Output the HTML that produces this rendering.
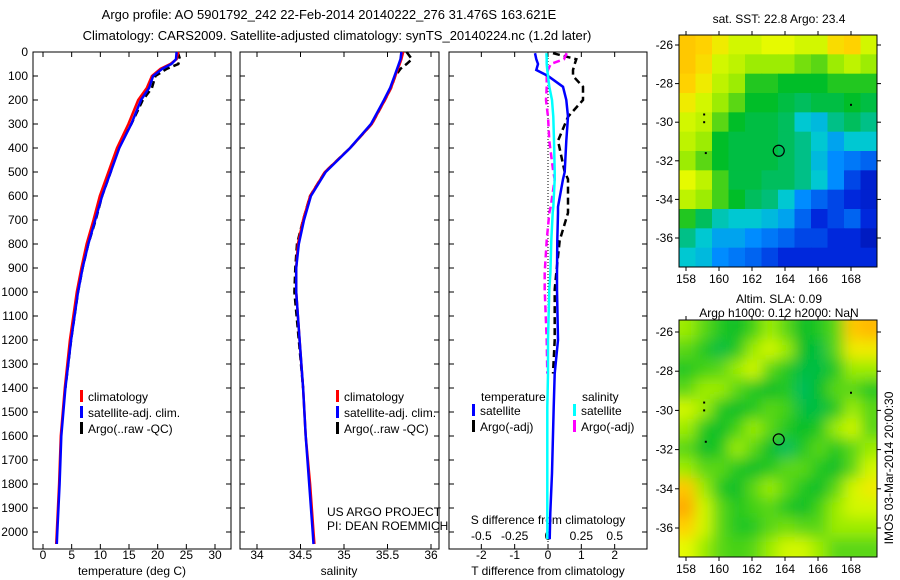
<!DOCTYPE html>
<html><head><meta charset="utf-8"><style>
body{margin:0;background:#fff;}
svg{display:block;font-family:"Liberation Sans",sans-serif;}
text{fill:#000;}
</style></head><body>
<svg id="s" width="900" height="580">
<text x="329" y="19" font-size="13" text-anchor="middle">Argo profile: AO 5901792_242 22-Feb-2014 20140222_276 31.476S 163.621E</text>
<text x="337" y="40" font-size="13" text-anchor="middle">Climatology: CARS2009. Satellite-adjusted climatology: synTS_20140224.nc (1.2d later)</text>
<text x="779" y="23" font-size="12" text-anchor="middle">sat. SST: 22.8 Argo: 23.4</text>
<text x="779" y="303" font-size="12" text-anchor="middle">Altim. SLA: 0.09</text>
<text x="779" y="317" font-size="12" text-anchor="middle">Argo h1000: 0.12 h2000: NaN</text>
<text transform="translate(893,468) rotate(-90)" font-size="12" text-anchor="middle">IMOS 03-Mar-2014 20:00:30</text>
<g id="g"></g>
</svg>
<script>
// ---- data ----
const depths = [0,30,50,70,100,150,200,300,400,500,600,700,800,900,1000,1200,1400,1600,1800,2000,2050];
const tempClim = [23.6,23.3,22.2,20.5,19.0,18.1,16.6,14.9,12.9,11.4,9.9,8.8,7.6,6.7,5.9,4.7,3.8,3.1,2.8,2.4,2.3];
const tempSat  = [23.3,23.2,22.4,20.8,19.2,18.5,17.1,15.4,13.3,11.8,10.3,9.1,7.9,6.9,6.1,4.9,3.9,3.2,2.9,2.5,2.4];
const tempArgo = [23.5,23.9,23.6,21.6,19.6,19.0,17.4,15.4,13.1,11.8,10.3,9.2,7.9,6.9,6.1,4.9,3.9];
const salClim = [35.68,35.66,35.64,35.62,35.59,35.54,35.47,35.32,35.07,34.78,34.61,34.53,34.47,34.45,34.45,34.49,34.53,34.56,34.61,34.65,34.66];
const salSat  = [35.66,35.65,35.63,35.61,35.58,35.53,35.46,35.31,35.07,34.79,34.62,34.54,34.48,34.45,34.45,34.49,34.53,34.56,34.60,34.64,34.65];
const salArgo = [35.72,35.78,35.72,35.65,35.59,35.54,35.47,35.32,35.07,34.78,34.61,34.53,34.46,34.44,34.43,34.48,34.53];
const diffDepths = [5,30,50,75,100,145,200,270,370,500,530,645,670,785,920,990,1200,1340,1480,1755,1920,2030];
const dTsat  = [-0.39,-0.35,-0.3,-0.35,0.0,0.45,0.55,0.6,0.55,0.5,0.45,0.3,0.3,0.28,0.27,0.27,0.3,0.2,0.17,0.12,0.07,0.05];
const dTargo = [0.15,0.85,0.8,0.75,0.75,1.05,1.05,0.6,0.3,0.5,0.6,0.6,0.6,0.35,0.25,0.2,0.2,0.15];
const dSsat  = [-0.012,-0.01,-0.01,-0.005,0,0.01,0.03,0.04,0.045,0.05,0.05,0.04,0.035,0.025,0.018,0.01,0,0,-0.005,-0.005,-0.005,-0.005];
const dSargo = [0.14,0.12,0.02,0.0,-0.01,-0.01,-0.015,0.0,0.01,0.04,0.05,0.02,0.01,-0.01,-0.025,-0.025,-0.01,-0.005];
const depthTicks = [0,100,200,300,400,500,600,700,800,900,1000,1100,1200,1300,1400,1500,1600,1700,1800,1900,2000];
const tempTicks = [0,5,10,15,20,25,30];
const salTicks = [34,34.5,35,35.5,36];
const dTTicks = [-2,-1,0,1,2];
const dSTicks = [-0.5,-0.25,0,0.25,0.5];
const lonTicks = [158,160,162,164,166,168];
const latTicks = [-26,-28,-30,-32,-34,-36];
const sstGrid = [
[.72,.7,.65,.6,.6,.62,.62,.6,.6,.68,.7,.6],
[.72,.68,.6,.58,.55,.55,.55,.52,.5,.55,.58,.55],
[.7,.65,.58,.55,.45,.45,.42,.42,.42,.45,.45,.45],
[.65,.6,.55,.5,.42,.42,.4,.38,.4,.4,.42,.4],
[.6,.58,.5,.42,.4,.4,.38,.3,.28,.35,.38,.35],
[.58,.55,.42,.4,.4,.4,.38,.35,.3,.25,.3,.3],
[.55,.5,.42,.4,.4,.4,.38,.35,.28,.22,.2,.18],
[.62,.58,.48,.4,.4,.38,.38,.35,.3,.22,.15,.1],
[.58,.55,.48,.42,.38,.36,.3,.22,.18,.15,.12,.1],
[.45,.38,.32,.3,.3,.28,.25,.18,.12,.15,.18,.12],
[.35,.3,.25,.25,.22,.2,.18,.15,.15,.12,.12,.08],
[.3,.28,.22,.2,.18,.15,.12,.12,.12,.12,.12,.12]];
const slaGrid = [
[.55,.5,.45,.42,.48,.55,.5,.42,.45,.5,.72,.75],
[.5,.45,.4,.45,.55,.6,.55,.42,.4,.5,.65,.65],
[.45,.48,.5,.55,.6,.5,.45,.4,.4,.45,.55,.55],
[.5,.55,.55,.5,.45,.42,.45,.38,.42,.5,.5,.45],
[.6,.55,.45,.42,.45,.5,.48,.4,.4,.45,.55,.5],
[.55,.45,.42,.48,.55,.5,.45,.42,.45,.55,.6,.5],
[.5,.42,.45,.55,.5,.42,.38,.45,.5,.45,.5,.55],
[.55,.5,.5,.45,.42,.45,.5,.5,.45,.42,.5,.6],
[.72,.55,.45,.42,.5,.55,.5,.45,.42,.5,.6,.65],
[.78,.6,.5,.45,.48,.5,.45,.42,.48,.55,.6,.6],
[.7,.6,.5,.45,.45,.5,.52,.5,.5,.55,.55,.55],
[.62,.55,.5,.48,.5,.55,.6,.6,.55,.5,.5,.5]];
const floatLon = [163.62];
const floatLat = [-31.48];

// ---- helpers ----
const NS='http://www.w3.org/2000/svg';
const G=document.getElementById('g');
function mk(tag,attrs,parent){const e=document.createElementNS(NS,tag);for(const k in attrs)e.setAttribute(k,attrs[k]);(parent||G).appendChild(e);return e;}
function txt(x,y,s,size,anchor){const t=mk('text',{x:x,y:y,'font-size':size||12,'text-anchor':anchor||'middle'});t.textContent=s;return t;}
const yTop=52, yPer=0.24, plotBottom=549;
const yD=d=>yTop+d*yPer;
function lin(d0,d1,r0,r1){return v=>r0+(v-d0)/(d1-d0)*(r1-r0);}
function frame(x0,x1,name){
  const r=mk('rect',{x:x0,y:yTop,width:x1-x0,height:plotBottom-yTop,fill:'none',stroke:'#000','stroke-width':1});
  
  
  depthTicks.forEach(d=>{mk('line',{x1:x0,x2:x0+5,y1:yD(d),y2:yD(d),stroke:'#000'});mk('line',{x1:x1,x2:x1-5,y1:yD(d),y2:yD(d),stroke:'#000'});});
}
function xticks(sc,ticks,x0,x1,labelY){ticks.forEach(v=>{const x=sc(v);mk('line',{x1:x,x2:x,y1:plotBottom,y2:plotBottom-5,stroke:'#000'});mk('line',{x1:x,x2:x,y1:yTop,y2:yTop+5,stroke:'#000'});const t=txt(x,labelY,String(v),12);});}
function line(xs,ds,sc,color,w,dash,name){
  let p='';for(let i=0;i<xs.length;i++)p+=(i?'L':'M')+sc(xs[i]).toFixed(1)+','+yD(ds[i]).toFixed(1);
  const a={d:p,fill:'none',stroke:color,'stroke-width':w};if(dash)a['stroke-dasharray']=dash;
  const e=mk('path',a);
  
  
}
function legend(x,y,items){items.forEach((it,i)=>{mk('rect',{x:x,y:y+i*16-11,width:3,height:12,fill:it[1]});const t=txt(x+8,y+i*16,it[0],12,'start');});}

// ---- panel 1: temperature ----
const tX=lin(0,30,43,215);
frame(33,231,'temperature-panel');
depthTicks.forEach(d=>{const t=txt(28,yD(d)+4,String(d),12,'end');});
xticks(tX,tempTicks,33,231,559);
line(tempArgo,depths.slice(0,tempArgo.length),tX,'#000',2.5,'7,4','temp-argo-line');
line(tempClim,depths,tX,'#f00',2.5,null,'temp-climatology-line');
line(tempSat,depths,tX,'#00f',2.5,null,'temp-satellite-line');
legend(80,401,[['climatology','#f00'],['satellite-adj. clim.','#00f'],['Argo(..raw -QC)','#000']]);
{const t=txt(132,575,'temperature (deg C)',12);}

// ---- panel 2: salinity ----
const sX=lin(34,36,257,431);
frame(240,439,'salinity-panel');
xticks(sX,salTicks,240,439,559);
line(salArgo,depths.slice(0,salArgo.length),sX,'#000',2.5,'7,4','sal-argo-line');
line(salClim,depths,sX,'#f00',2.5,null,'sal-climatology-line');
line(salSat,depths,sX,'#00f',2.5,null,'sal-satellite-line');
legend(336,401,[['climatology','#f00'],['satellite-adj. clim.','#00f'],['Argo(..raw -QC)','#000']]);
{const t=txt(327,516,'US ARGO PROJECT',12,'start');}
{const t=txt(327,530,'PI: DEAN ROEMMICH',12,'start');}
{const t=txt(339,575,'salinity',12);}

// ---- panel 3: differences ----
const dX=lin(-3,3,448,648);
const dSX=v=>dX(v*4);
frame(449,647,'difference-panel');
mk('line',{x1:dX(0),x2:dX(0),y1:yTop,y2:plotBottom,stroke:'#000','stroke-dasharray':'1,2'});
xticks(dX,dTTicks,449,647,559);
dSTicks.forEach(v=>{const t=txt(dSX(v),540,String(v),12);});
{const t=txt(548,524,'S difference from climatology',12);}
{const t=txt(548,575,'T difference from climatology',12);}
line(dTargo,diffDepths.slice(0,dTargo.length),dX,'#000',2.5,'7,4','t-diff-argo-line');
line(dSargo,diffDepths.slice(0,dSargo.length),dSX,'#f0f',2.5,'7,4','s-diff-argo-line');
line(dTsat,diffDepths,dX,'#00f',2.5,null,'t-diff-satellite-line');
line(dSsat,diffDepths,dSX,'#0ff',2.5,null,'s-diff-satellite-line');
{const t=txt(481,401,'temperature',12,'start');}
{const t=txt(582,401,'salinity',12,'start');}
legend(472,415,[['satellite','#00f'],['Argo(-adj)','#000']]);
legend(573,415,[['satellite','#0ff'],['Argo(-adj)','#f0f']]);

// ---- maps ----
function cmap(v){
  // green-centred palette resembling reference
  const stops=[[0,[0,0,140]],[0.12,[0,40,220]],[0.22,[0,140,255]],[0.3,[0,200,210]],[0.36,[0,190,120]],[0.42,[0,190,40]],[0.5,[90,215,20]],[0.56,[170,240,0]],[0.62,[230,250,0]],[0.7,[255,210,0]],[0.78,[255,170,0]],[0.9,[240,80,0]],[1,[170,0,0]]];
  v=Math.max(0,Math.min(1,v));
  for(let i=1;i<stops.length;i++){if(v<=stops[i][0]){const a=stops[i-1],b=stops[i],t=(v-a[0])/(b[0]-a[0]);return 'rgb('+[0,1,2].map(k=>Math.round(a[1][k]+t*(b[1][k]-a[1][k]))).join(',')+')';}}
  return 'rgb(170,0,0)';
}
function map(y0,y1,grid,lat26y,lat36y,name,smooth){
  const x0=679,x1=877;
  const lx=lin(158,168,686,851), ly=lin(-26,-36,lat26y,lat36y);
  const grp=mk('g',{});
  
  
  const clipId='c'+name;
  const cp=mk('clipPath',{id:clipId},grp);mk('rect',{x:x0,y:y0,width:x1-x0,height:y1-y0},cp);
  const inner=mk('g',{'clip-path':'url(#'+clipId+')'},grp);
  let fillG=inner;
  if(smooth){const f=mk('filter',{id:'f'+name,x:'-10%',y:'-10%',width:'120%',height:'120%'},grp);mk('feGaussianBlur',{stdDeviation:7},f);fillG=mk('g',{filter:'url(#f'+name+')'},inner);}
  const R=grid.length,C=grid[0].length,cw=(x1-x0)/C,ch=(y1-y0)/R;
  const pad=smooth?12:0;
  for(let r=0;r<R;r++)for(let c=0;c<C;c++){
    const cell=mk('rect',{x:x0+c*cw-(c==0?pad:0),y:y0+r*ch-(r==0?pad:0),width:cw+0.6+(c==0||c==C-1?pad:0),height:ch+0.6+(r==0||r==R-1?pad:0),fill:cmap(grid[r][c])},fillG);
    
    
  }
  mk('rect',{x:x0,y:y0,width:x1-x0,height:y1-y0,fill:'none',stroke:'#000'},grp);
  lonTicks.forEach(v=>{const x=lx(v);mk('line',{x1:x,x2:x,y1:y1,y2:y1+4,stroke:'#000'},grp);mk('line',{x1:x,x2:x,y1:y0,y2:y0-4,stroke:'#000'},grp);const t=txt(x,y1+16,String(v),12);});
  latTicks.forEach(v=>{const y=ly(v);mk('line',{x1:x0,x2:x0-4,y1:y,y2:y,stroke:'#000'},grp);mk('line',{x1:x1,x2:x1+4,y1:y,y2:y,stroke:'#000'},grp);const t=txt(x0-6,y+4,String(v),12,'end');});
  floatLon.forEach((lo,i)=>{const m=mk('circle',{cx:lx(lo),cy:ly(floatLat[i]),r:5.5,fill:'none',stroke:'#000','stroke-width':1.2},grp);});
  [[159.1,-29.6],[159.1,-30.0],[159.2,-31.6],[168,-29.1]].forEach(p=>mk('rect',{x:lx(p[0])-1,y:ly(p[1])-1,width:2,height:2,fill:'#000'},grp));
}
map(35,267,sstGrid,45,238,'sst-map',false);
map(320,557,slaGrid,332,528,'sla-map',true);
</script>
</body></html>
